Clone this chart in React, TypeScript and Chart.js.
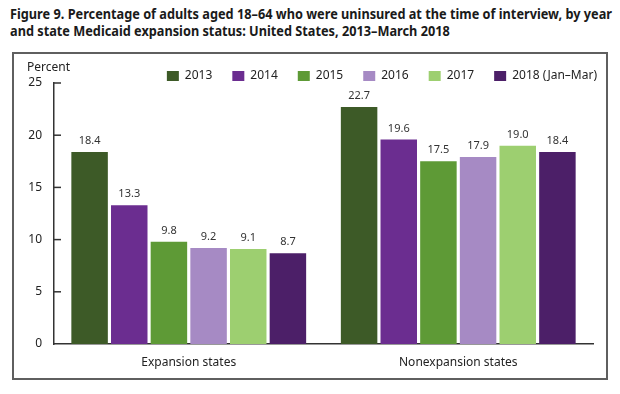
import React, { useEffect, useRef } from "react";
import { Chart, registerables } from "chart.js";

Chart.register(...registerables);

const categories = ["Expansion states", "Nonexpansion states"];
const seriesLabels = ["2013", "2014", "2015", "2016", "2017", "2018 (Jan–Mar)"];
const values2013 = [18.4, 22.7];
const values2014 = [13.3, 19.6];
const values2015 = [9.8, 17.5];
const values2016 = [9.2, 17.9];
const values2017 = [9.1, 19.0];
const values2018 = [8.7, 18.4];
const seriesValues = [values2013, values2014, values2015, values2016, values2017, values2018];
const seriesColors = ["#3d5a27", "#6b2d90", "#5e9a36", "#a68ac4", "#9dcf70", "#4c1f68"];
const yTickValues = [0, 5, 10, 15, 20, 25];
const yAxisTitle = "Percent";
const titleLine1 =
  "Figure 9. Percentage of adults aged 18–64 who were uninsured at the time of interview, by year";
const titleLine2 = "and state Medicaid expansion status: United States, 2013–March 2018";

const FONT = "'Noto Sans', 'Open Sans', sans-serif";

export default function App() {
  const canvasRef = useRef<HTMLCanvasElement | null>(null);
  const titleRef = useRef<HTMLDivElement | null>(null);
  const line1Ref = useRef<HTMLSpanElement | null>(null);

  useEffect(() => {
    if (titleRef.current && line1Ref.current) {
      const w = line1Ref.current.getBoundingClientRect().width;
      const s = 602 / w;
      titleRef.current.style.transform = `scaleX(${s})`;
    }
  }, []);

  useEffect(() => {
    if (!canvasRef.current) return;

    const extras = {
      id: "extras",
      beforeLayout(chart: any) {
        const lg = chart.legend;
        if (lg && !lg.__patched) {
          const orig = lg.fit;
          lg.fit = function () {
            orig.call(this);
            this.height = 33;
          };
          lg.__patched = true;
        }
      },
      afterLayout(chart: any) {
        const lg = chart.legend;
        if (lg) {
          lg.left += 24;
          lg.right += 24;
        }
      },
      afterDatasetsDraw(chart: any) {
        const ctx = chart.ctx;
        ctx.save();
        ctx.font = `11px ${FONT}`;
        ctx.fillStyle = "#333";
        ctx.textAlign = "center";
        ctx.textBaseline = "middle";
        chart.data.datasets.forEach((ds: any, i: number) => {
          const meta = chart.getDatasetMeta(i);
          meta.data.forEach((bar: any, j: number) => {
            const v = ds.data[j];
            ctx.fillText(Number(v).toFixed(1), bar.x, bar.y - 11);
          });
        });
        ctx.restore();
      },
      afterDraw(chart: any) {
        const ctx = chart.ctx;
        const ys = chart.scales.y;
        const left = chart.chartArea.left;
        ctx.save();
        ctx.strokeStyle = "#333";
        ctx.lineWidth = 1.5;
        yTickValues.forEach((v) => {
          if (v === 0) return;
          const y = ys.getPixelForValue(v);
          ctx.beginPath();
          ctx.moveTo(left, y);
          ctx.lineTo(left + 7, y);
          ctx.stroke();
        });
        ctx.font = `12px ${FONT}`;
        ctx.fillStyle = "#222";
        ctx.textAlign = "left";
        ctx.textBaseline = "middle";
        ctx.fillText(yAxisTitle, 14, 28);
        ctx.restore();
      },
    };

    const chart = new Chart(canvasRef.current, {
      type: "bar",
      data: {
        labels: categories,
        datasets: seriesLabels.map((label, i) => ({
          label,
          data: seriesValues[i],
          backgroundColor: seriesColors[i],
          borderWidth: 0,
          barPercentage: 0.92,
          categoryPercentage: 0.883,
        })),
      },
      options: {
        animation: false,
        responsive: false,
        maintainAspectRatio: false,
        layout: { padding: { top: 10, right: 14, left: 0, bottom: 0 } },
        plugins: {
          legend: {
            display: true,
            position: "top",
            align: "end",
            labels: {
              boxWidth: 12,
              boxHeight: 10,
              padding: 20,
              color: "#222",
              font: { family: FONT, size: 12 },
            },
          },
          tooltip: { enabled: false },
          title: { display: false },
        },
        scales: {
          x: {
            grid: { display: false, drawTicks: false },
            border: { display: true, color: "#333", width: 1.5 },
            ticks: {
              padding: 11,
              color: "#222",
              font: { family: FONT, size: 12 },
            },
            afterFit(scale: any) {
              scale.height = 34;
            },
          },
          y: {
            min: 0,
            max: 25,
            grid: { display: false, drawTicks: false },
            border: { display: true, color: "#333", width: 1.5 },
            ticks: {
              stepSize: 5,
              padding: 12,
              color: "#222",
              font: { family: FONT, size: 12 },
            },
            afterFit(scale: any) {
              scale.width = 41;
            },
          },
        },
      },
      plugins: [extras],
    } as any);

    return () => chart.destroy();
  }, []);

  return (
    <div
      style={{
        position: "absolute",
        left: 0,
        top: 0,
        width: 620,
        height: 394,
        background: "#fff",
        overflow: "hidden",
        fontFamily: FONT,
      }}
    >
      <div
        ref={titleRef}
        style={{
          position: "absolute",
          left: 10,
          top: 5,
          transformOrigin: "0 0",
          fontWeight: 700,
          fontSize: 14,
          lineHeight: "17px",
          color: "#1a1a1a",
          whiteSpace: "nowrap",
        }}
      >
        <span ref={line1Ref}>{titleLine1}</span>
        <br />
        <span>{titleLine2}</span>
      </div>
      <div
        style={{
          position: "absolute",
          left: 12,
          top: 52,
          width: 596,
          height: 328,
          border: "2px solid #5f5f5f",
          boxSizing: "border-box",
        }}
      />
      <canvas
        ref={canvasRef}
        width={594}
        height={338}
        style={{ position: "absolute", left: 13, top: 40, width: 594, height: 338 }}
      />
    </div>
  );
}
